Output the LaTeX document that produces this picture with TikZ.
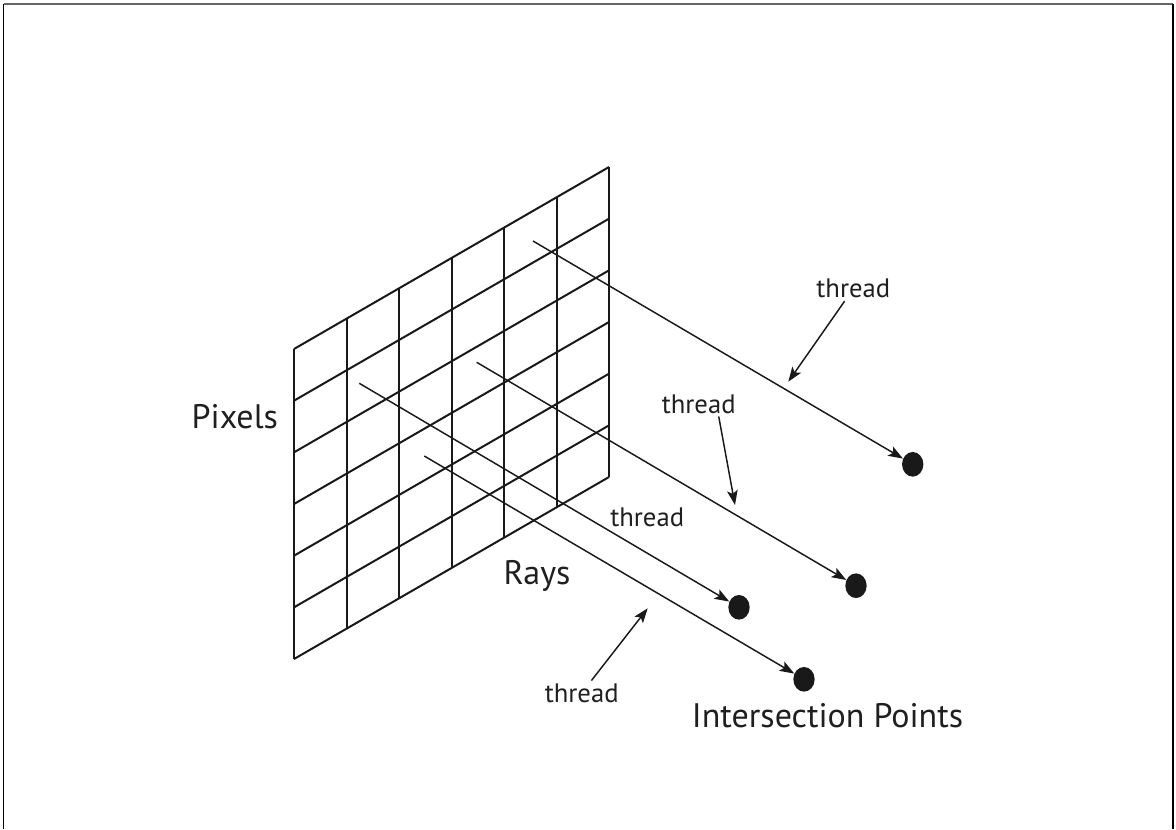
\documentclass[tikz,border=0pt]{standalone}
\usepackage{fontspec}
\setmainfont{PT Sans}
\usetikzlibrary{arrows.meta,shapes.geometric,calc}
\tikzset{
  cellline/.style={line width=1.5pt,color=black!90},
  framel/.style={line width=1.2pt,color=black},
  rayarr/.style={-{Stealth[length=11pt,width=8pt,inset=2.5pt]},line width=1.1pt,color=black!90},
  thrarr/.style={-{Stealth[length=11pt,width=8pt,inset=2.5pt]},line width=1.1pt,color=black!90},
  hitpt/.style={ellipse,fill=black!90,inner sep=0pt,minimum width=16pt,minimum height=18.5pt},
  thrlabel/.style={font=\fontsize{20}{23}\selectfont,text=black!88,inner sep=2pt},
  biglabel/.style={font=\fontsize{25.5}{29}\selectfont,text=black!88,inner sep=2pt}
}
\begin{document}
\begin{tikzpicture}[x=0.75pt,y=-0.75pt]
  \useasboundingbox (0,0) rectangle (1176,829);
  % page frame (open at the bottom)
  \draw[framel] (3.5,3.8) -- (3.5,829);
  \draw[framel,color=black!60] (3.5,3.8) -- (1172.5,3.8);
  \draw[framel,line width=1.5pt] (1172.5,3.8) -- (1172.5,829);

  % pixel plane, 6x6 cells
  \foreach \i in {0,...,6}
    \draw[cellline] (294+52.5*\i,349-30.33*\i) -- ++(0,310);
  \foreach \j in {0,...,6}
    \draw[cellline] (294,349+51.67*\j) -- ++(315,-182);

  % ray start points and intersection points
  \coordinate (r1) at (533,241);
  \coordinate (r2) at (476.7,362.3);
  \coordinate (r3) at (359.3,383.3);
  \coordinate (r4) at (424.3,456);
  \node[hitpt] (p1) at (912.7,464.3) {};
  \node[hitpt] (p2) at (856,585.7) {};
  \node[hitpt] (p3) at (739,607.3) {};
  \node[hitpt] (p4) at (804,679.3) {};
  \foreach \n in {1,...,4}
    \draw[rayarr] (r\n) -- (p\n);

  % labels
  \node[biglabel] (pix) at (234.8,417) {Pixels};
  \node[biglabel] (rays) at (537,576) {Rays};
  \node[biglabel] (isect) at (827.5,716) {Intersection Points};
  \node[thrlabel] (t1) at (853.3,288.7) {thread};
  \node[thrlabel] (t2) at (698.7,404) {thread};
  \node[thrlabel] (t3) at (647.2,517.5) {thread};
  \node[thrlabel] (t4) at (581.7,693) {thread};

  % thread pointers
  \coordinate (a1) at (788.3,381.7);
  \coordinate (a2) at (735,505);
  \coordinate (a4) at (647.7,608.3);
  \draw[thrarr] (t1) -- (a1);
  \draw[thrarr] ($(t2.south)+(20,0)$) -- (a2);
  \draw[thrarr] (t4) -- (a4);
\end{tikzpicture}
\end{document}
